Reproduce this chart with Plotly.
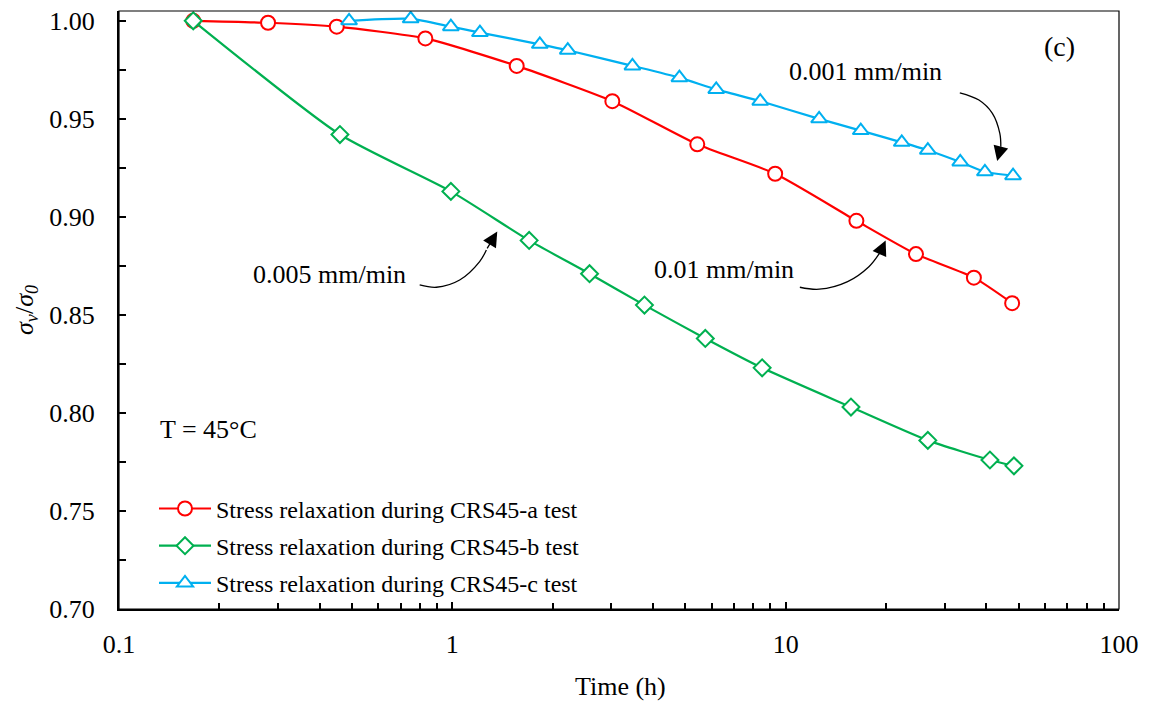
import math
import plotly.graph_objects as go

# ---- data ----
t_a = [0.167, 0.28, 0.45, 0.83, 1.56, 3.02, 5.43, 9.3, 16.3, 24.6, 36.7, 47.8]
s_a = [1.000, 0.999, 0.997, 0.991, 0.977, 0.959, 0.937, 0.922, 0.898, 0.881, 0.869, 0.856]

t_b = [0.167, 0.46, 0.99, 1.70, 2.58, 3.77, 5.74, 8.5, 15.7, 26.7, 41.0, 48.4]
s_b = [1.000, 0.942, 0.913, 0.888, 0.871, 0.855, 0.838, 0.823, 0.803, 0.786, 0.776, 0.773]

t_c = [0.49, 0.75, 0.99, 1.21, 1.83, 2.22, 3.47, 4.80, 6.19, 8.39, 12.6, 16.8, 22.3, 26.7, 33.4, 39.6, 48.1]
s_c = [1.000, 1.001, 0.997, 0.994, 0.988, 0.985, 0.977, 0.971, 0.965, 0.959, 0.950, 0.944, 0.938, 0.934, 0.928, 0.923, 0.921]

names = ["Stress relaxation during CRS45-a test",
         "Stress relaxation during CRS45-b test",
         "Stress relaxation during CRS45-c test"]

# curved annotation arrows (label geometry)
arr1_x = [33.3, 38.0, 41.7, 43.9, 44.2]
arr1_y = [0.9633, 0.9596, 0.9528, 0.9426, 0.9358]
arr2_x = [11.03, 12.61, 15.34, 17.77, 19.11]
arr2_y = [0.8641, 0.8631, 0.8670, 0.8746, 0.8814]
arr3_x = [0.798, 0.896, 1.052, 1.2075, 1.265]
arr3_y = [0.8653, 0.8641, 0.8678, 0.8772, 0.8831]

FONT = "Liberation Serif, Times New Roman, serif"
RED, GREEN, BLUE = "#FF0000", "#00B050", "#00B0F0"

fig = go.Figure()

def add_series(x, y, name, color, symbol, size, grp):
    fig.add_trace(go.Scatter(
        x=x, y=y, name=name, mode="lines+markers", legendgroup=grp,
        line=dict(color=color, width=2.2, shape="spline", smoothing=0.6),
        marker=dict(symbol=symbol, size=size, color="white",
                    line=dict(color=color, width=2)),
    ))

add_series(t_a, s_a, names[0], RED, "circle", 14, "a")
add_series(t_b, s_b, names[1], GREEN, "diamond", 13, "b")
add_series(t_c, s_c, names[2], BLUE, "triangle-up", 14, "c")

for ax_, ay_ in [(arr1_x, arr1_y), (arr2_x, arr2_y), (arr3_x, arr3_y)]:
    fig.add_trace(go.Scatter(x=ax_, y=ay_, mode="lines", showlegend=False,
                             hoverinfo="skip",
                             line=dict(color="black", width=1.3, shape="spline")))

ann = []
# arrow heads: tip position, tail offset in pixels
for tip_x, tip_y, dx, dy in [(43.1, 0.9285, 3.7, -14.3),
                             (19.95, 0.8880, -6.4, 14.0),
                             (1.364, 0.8925, -11.0, 18.3)]:
    ann.append(dict(x=math.log10(tip_x), y=tip_y, xref="x", yref="y",
                    ax=dx, ay=dy, axref="pixel", ayref="pixel", text="",
                    showarrow=True, arrowhead=2, arrowsize=2.3, arrowwidth=1.3,
                    arrowcolor="black", standoff=0))

def label(txt, xlog, y, anchor="center", size=26):
    ann.append(dict(x=xlog, y=y, xref="x", yref="y", text=txt, showarrow=False,
                    xanchor=anchor, yanchor="middle",
                    font=dict(family=FONT, size=size, color="black")))

label("0.001 mm/min", 1.239, 0.9739)
label("(c)", 1.820, 0.9871, size=28)
label("0.01 mm/min", 0.816, 0.8734)
label("0.005 mm/min", -0.368, 0.8704)
label("T = 45°C", -0.883, 0.7914, anchor="left")

# axis titles placed as annotations
ann.append(dict(x=-0.093, y=0.5, xref="paper", yref="paper",
                text="<i>σ<sub>v</sub></i>/<i>σ<sub>0</sub></i>",
                showarrow=False, textangle=-90, xanchor="center", yanchor="middle",
                font=dict(family=FONT, size=26, color="black")))
ann.append(dict(x=0.501, y=-0.129, xref="paper", yref="paper",
                text="Time (h)", showarrow=False, xanchor="center", yanchor="middle",
                font=dict(family=FONT, size=26, color="black")))

minor_x = [m * 10 ** e for e in (-1, 0, 1) for m in range(2, 10)]

fig.update_layout(
    width=1143, height=696,
    margin=dict(l=111, r=32, t=3, b=95, autoexpand=False),
    paper_bgcolor="white", plot_bgcolor="white",
    font=dict(family=FONT, size=26, color="black"),
    showlegend=True,
    legend=dict(x=0.035, y=0.205, xanchor="left", yanchor="top",
                bgcolor="rgba(0,0,0,0)", font=dict(family=FONT, size=24),
                itemwidth=52, tracegroupgap=3),
    annotations=ann,
    shapes=[dict(type="rect", xref="paper", yref="paper", x0=0, x1=1, y0=0, y1=1,
                 line=dict(color="black", width=1.2), layer="above")],
    xaxis=dict(type="log", range=[-1, 2], automargin=False,
               tickvals=[0.1, 1, 10, 100], ticktext=["0.1", "1", "10", "100"],
               ticklabeloverflow="allow",
               showgrid=False, zeroline=False, showline=True, linecolor="black",
               linewidth=2.2, ticks="inside", ticklen=7, tickwidth=1.5,
               tickcolor="black", tickfont=dict(size=26), ticklabelstandoff=11,
               minor=dict(tickvals=minor_x, ticks="inside", ticklen=6,
                          tickwidth=1.5, tickcolor="black", showgrid=False)),
    yaxis=dict(range=[0.70, 1.005], dtick=0.05, tick0=0.70, tickformat=".2f",
               automargin=False, ticklabelstandoff=17, ticklabeloverflow="allow",
               showgrid=False, zeroline=False, showline=True, linecolor="black",
               linewidth=2.2, ticks="inside", ticklen=7, tickwidth=1.5,
               tickcolor="black", tickfont=dict(size=26),
               minor=dict(dtick=0.025, tick0=0.70, ticks="inside", ticklen=7,
                          tickwidth=1.5, tickcolor="black", showgrid=False)),
)

fig.write_html("out.html")
